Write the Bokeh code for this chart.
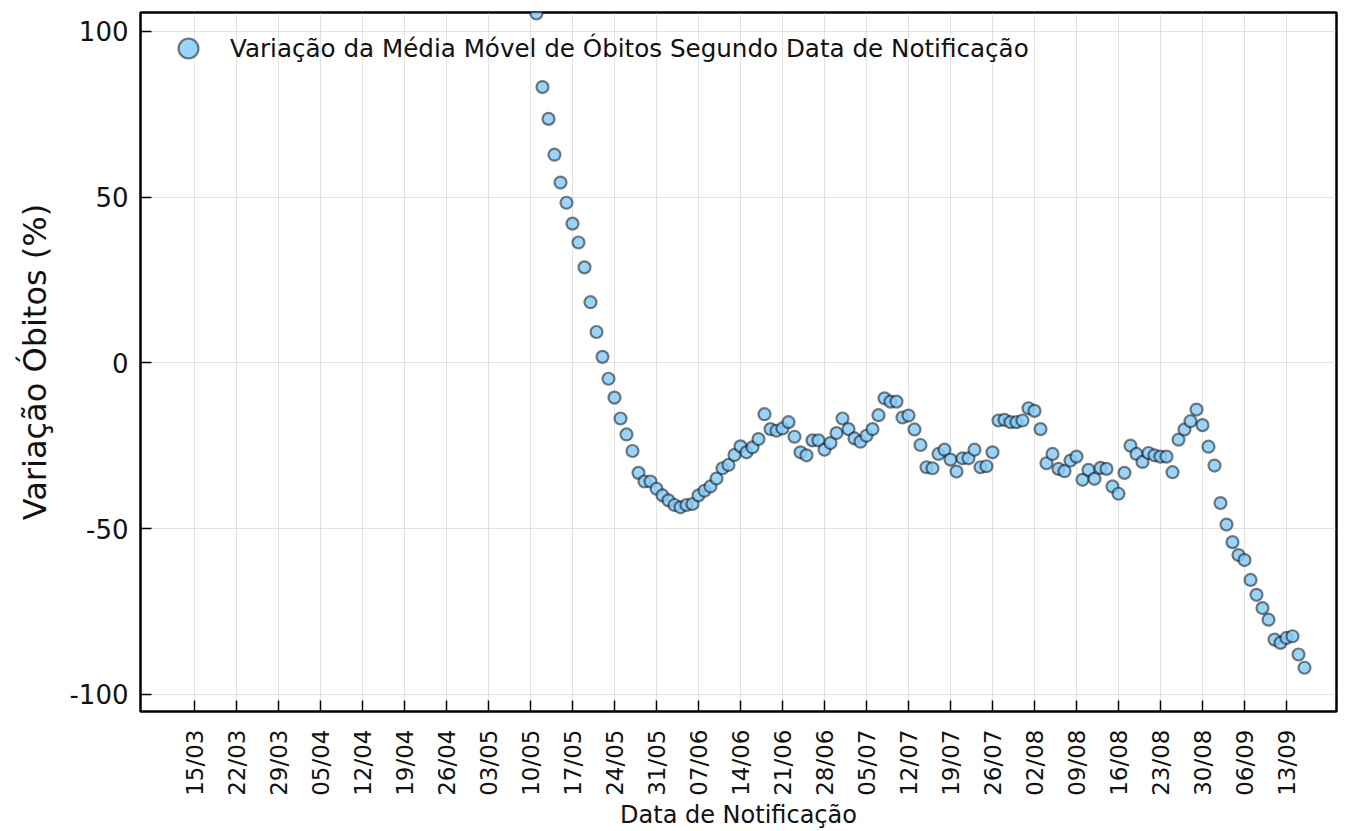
import math
from datetime import datetime
import pandas as pd
from bokeh.plotting import figure
from bokeh.models import (Range1d, FixedTicker, DatetimeTickFormatter, Legend,
                          LegendItem, ColumnDataSource)
from bokeh.embed import file_html
from bokeh.resources import INLINE

# ---------------- data ----------------
first_date = "2020-05-11"          # first daily point
variacao_obitos = [
    105.4, 83.2, 73.6, 62.8, 54.4, 48.3, 42.0, 36.3, 28.8, 18.3,
    9.3, 1.8, -4.8, -10.5, -16.8, -21.6, -26.6, -33.2, -35.8, -35.8,
    -38.0, -40.0, -41.5, -42.9, -43.6, -42.9, -42.6, -40.0, -38.6, -37.3,
    -34.9, -31.8, -30.8, -27.8, -25.2, -27.0, -25.5, -23.0, -15.5, -20.0,
    -20.5, -19.8, -17.9, -22.3, -27.0, -27.9, -23.4, -23.4, -26.2, -24.2,
    -21.2, -16.8, -20.0, -22.8, -23.8, -22.0, -20.0, -15.8, -10.7, -11.7,
    -11.7, -16.5, -15.9, -20.1, -24.8, -31.5, -31.8, -27.5, -26.2, -29.2,
    -32.8, -28.8, -28.8, -26.2, -31.5, -31.2, -27.0, -17.4, -17.2, -17.9,
    -17.9, -17.4, -13.7, -14.5, -20.0, -30.3, -27.5, -32.0, -32.7, -29.5,
    -28.3, -35.3, -32.3, -35.0, -31.7, -32.0, -37.3, -39.5, -33.2, -25.0,
    -27.5, -29.9, -27.2, -27.9, -28.3, -28.3, -33.0, -23.2, -20.1, -17.6,
    -14.1, -18.8, -25.3, -31.0, -42.3, -48.8, -54.1, -58.0, -59.5, -65.5,
    -70.0, -74.0, -77.5, -83.5, -84.5, -83.0, -82.5, -88.0, -92.0,
]
x_tick_dates = ["2020-03-15", "2020-03-22", "2020-03-29", "2020-04-05", "2020-04-12",
                "2020-04-19", "2020-04-26", "2020-05-03", "2020-05-10", "2020-05-17",
                "2020-05-24", "2020-05-31", "2020-06-07", "2020-06-14", "2020-06-21",
                "2020-06-28", "2020-07-05", "2020-07-12", "2020-07-19", "2020-07-26",
                "2020-08-02", "2020-08-09", "2020-08-16", "2020-08-23", "2020-08-30",
                "2020-09-06", "2020-09-13"]
y_ticks = [-100, -50, 0, 50, 100]
y_tick_labels = ["-100", "-50", "0", "50", "100"]
legend_label = "Variação da Média Móvel de Óbitos Segundo Data de Notificação"
x_label = "Data de Notificação"
y_label = "Variação Óbitos (%)"

dates = pd.date_range(first_date, periods=len(variacao_obitos), freq="D")
source = ColumnDataSource(data=dict(date=dates, val=variacao_obitos))

FONT = "DejaVu Sans"
TXT = "#111111"

p = figure(width=1345, height=831, x_axis_type="datetime",
           x_range=Range1d(datetime(2020, 3, 6), datetime(2020, 9, 21, 8)),
           y_range=Range1d(-105.2, 105.7),
           output_backend="svg", toolbar_location=None,
           min_border_left=140, min_border_right=9, min_border_top=12,
           min_border_bottom=118)

p.background_fill_color = "white"
p.border_fill_color = "white"
p.outline_line_color = "black"
p.outline_line_width = 2.5

r = p.scatter(x="date", y="val", source=source, size=12,
              fill_color="#87CEFA", fill_alpha=0.85,
              line_color="black", line_alpha=0.5, line_width=2.2)

# axes
tick_ms = [pd.Timestamp(d).value // 10**6 for d in x_tick_dates]
xa = p.xaxis[0]
xa.ticker = FixedTicker(ticks=tick_ms)
fmt = "%d/%m"
xa.formatter = DatetimeTickFormatter(days=fmt, months=fmt, years=fmt, hours=fmt,
                                     minutes=fmt, hourmin=fmt, seconds=fmt)
xa.major_label_orientation = math.pi / 2
xa.major_label_text_font = FONT
xa.major_label_text_font_size = "23px"
xa.major_label_text_color = TXT
xa.major_label_standoff = 18
xa.axis_label = x_label
xa.axis_label_text_font = FONT
xa.axis_label_text_font_size = "24px"
xa.axis_label_text_font_style = "normal"
xa.axis_label_text_color = TXT
xa.axis_label_standoff = 2

ya = p.yaxis[0]
ya.ticker = FixedTicker(ticks=y_ticks)
ya.major_label_overrides = {t: s for t, s in zip(y_ticks, y_tick_labels)}
ya.major_label_text_font = FONT
ya.major_label_text_font_size = "26px"
ya.major_label_text_color = TXT
ya.major_label_standoff = 12
ya.axis_label = y_label
ya.axis_label_text_font = FONT
ya.axis_label_text_font_size = "32px"
ya.axis_label_text_font_style = "normal"
ya.axis_label_text_color = TXT
ya.axis_label_standoff = 12

for ax in (xa, ya):
    ax.axis_line_color = None
    ax.major_tick_in = 11
    ax.major_tick_out = 0
    ax.major_tick_line_color = "black"
    ax.major_tick_line_width = 1.5
    ax.minor_tick_line_color = None

p.xgrid.grid_line_color = "#b0b0b0"
p.xgrid.grid_line_alpha = 0.35
p.ygrid.grid_line_color = "#b0b0b0"
p.ygrid.grid_line_alpha = 0.35

legend = Legend(items=[LegendItem(label=legend_label, renderers=[r])],
                location=(23, 638), glyph_width=50, glyph_height=50,
                padding=0, margin=0, spacing=0, label_standoff=17,
                label_text_font=FONT, label_text_font_size="24.6px",
                label_text_color=TXT,
                border_line_color=None, background_fill_alpha=0)
p.add_layout(legend)

open("out.html", "w").write(file_html(p, INLINE))
